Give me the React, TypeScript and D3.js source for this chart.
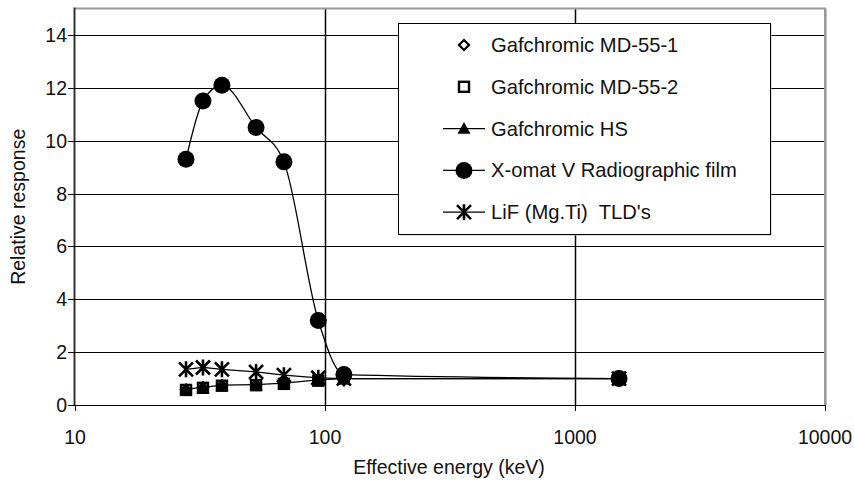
import React from "react";
import * as d3 from "d3";

const energies = [27.8, 32.5, 38.7, 53, 68.5, 94, 119, 1500];
const md551 = [0.58, 0.66, 0.74, 0.76, 0.82, 0.93, 1.0, 1.0];
const md552 = [0.57, 0.65, 0.73, 0.75, 0.8, 0.92, 1.0, 1.0];
const hs = [0.6, 0.67, 0.75, 0.77, 0.83, 0.95, 1.0, 1.0];
const xomat = [9.3, 11.5, 12.1, 10.5, 9.2, 3.2, 1.15, 1.0];
const lif = [1.35, 1.42, 1.35, 1.25, 1.13, 1.03, 1.0, 1.0];

const seriesNames = [
  "Gafchromic MD-55-1",
  "Gafchromic MD-55-2",
  "Gafchromic HS",
  "X-omat V Radiographic film",
  "LiF (Mg.Ti)  TLD's",
];
const xTicks = [10, 100, 1000, 10000];
const yTicks = [0, 2, 4, 6, 8, 10, 12, 14];

const W = 854;
const H = 480;
const L = 75;
const R = 825;
const T = 8.6;
const B = 405;
const FONT = "Liberation Sans, Arial, sans-serif";
const FS = 19.5;
const LFS = 20.2;

type Kind = "diamond" | "square" | "triangle" | "circle" | "star";

function Marker({ kind, x, y, legend }: { kind: Kind; x: number; y: number; legend?: boolean }) {
  if (kind === "diamond") {
    const s = 5;
    return (
      <path
        d={`M${x},${y - s}L${x + s},${y}L${x},${y + s}L${x - s},${y}Z`}
        fill={legend ? "white" : "none"}
        stroke="black"
        strokeWidth={2.2}
      />
    );
  }
  if (kind === "square") {
    const s = 5;
    return (
      <rect
        x={x - s}
        y={y - s}
        width={2 * s}
        height={2 * s}
        fill={legend ? "white" : "none"}
        stroke="black"
        strokeWidth={2.4}
      />
    );
  }
  if (kind === "triangle") {
    const s = 6.5;
    return <path d={`M${x},${y - s}L${x + s},${y + s * 0.8}L${x - s},${y + s * 0.8}Z`} fill="black" />;
  }
  if (kind === "circle") {
    return <circle cx={x} cy={y} r={8.5} fill="black" />;
  }
  const s = 7;
  return (
    <path
      d={`M${x - s},${y - s}L${x + s},${y + s}M${x - s},${y + s}L${x + s},${y - s}M${x},${y - s - 1}L${x},${y + s + 1}`}
      stroke="black"
      strokeWidth={2.6}
      fill="none"
    />
  );
}

export default function App() {
  const x = d3.scaleLog().domain([10, 10000]).range([L, R]);
  const y = d3.scaleLinear().domain([0, 15]).range([B, T]);

  const straight = d3
    .line<number>()
    .x((_, i) => x(energies[i]))
    .y((v) => y(v));
  const smooth = d3
    .line<number>()
    .x((_, i) => x(energies[i]))
    .y((v) => y(v))
    .curve(d3.curveMonotoneX);

  const series: { vals: number[]; kind: Kind; line: "none" | "straight" | "smooth" }[] = [
    { vals: md551, kind: "diamond", line: "none" },
    { vals: md552, kind: "square", line: "none" },
    { vals: hs, kind: "triangle", line: "straight" },
    { vals: xomat, kind: "circle", line: "smooth" },
    { vals: lif, kind: "star", line: "straight" },
  ];

  const legX = 398;
  const legY = 23;
  const legW = 372;
  const legH = 211;

  return (
    <svg
      width={W}
      height={H}
      style={{ position: "absolute", left: 0, top: 0, background: "white" }}
      fontFamily={FONT}
    >
      <rect x={0} y={0} width={W} height={H} fill="white" />
      {/* gridlines */}
      {yTicks.filter((t) => t > 0).map((t) => (
        <line key={"gy" + t} x1={L} x2={R} y1={Math.round(y(t)) + 0.5} y2={Math.round(y(t)) + 0.5} stroke="black" strokeWidth={1.2} />
      ))}
      {xTicks.filter((t) => t > 10).map((t) => (
        <line key={"gx" + t} x1={Math.round(x(t)) + 0.5} x2={Math.round(x(t)) + 0.5} y1={T} y2={B} stroke="black" strokeWidth={1.5} />
      ))}
      {/* plot border top/right */}
      <path d={`M${L},${T}H${R}V${B}`} fill="none" stroke="#9a9a9a" strokeWidth={2} />
      {/* axes */}
      <line x1={L - 0.5} x2={L - 0.5} y1={T - 1} y2={B} stroke="#333" strokeWidth={2} />
      <line x1={L} x2={R} y1={B + 0.5} y2={B + 0.5} stroke="black" strokeWidth={1.2} />
      {yTicks.map((t) => (
        <g key={"ty" + t}>
          <line x1={L - 7} x2={L} y1={Math.round(y(t)) + 0.5} y2={Math.round(y(t)) + 0.5} stroke="black" strokeWidth={1} />
          <text x={L - 8} y={y(t) + 7} textAnchor="end" fontSize={FS} fill="#111">
            {t}
          </text>
        </g>
      ))}
      {xTicks.map((t) => (
        <g key={"tx" + t}>
          <line x1={Math.round(x(t)) + 0.5} x2={Math.round(x(t)) + 0.5} y1={B} y2={B + 6} stroke="black" strokeWidth={1} />
          <text x={x(t)} y={B + 39} textAnchor="middle" fontSize={FS} fill="#111">
            {t}
          </text>
        </g>
      ))}
      <text x={449} y={474} textAnchor="middle" fontSize={FS} fill="#111">
        Effective energy (keV)
      </text>
      <text transform={`translate(25,${(T + B) / 2}) rotate(-90)`} textAnchor="middle" fontSize={FS} fill="#111">
        Relative response
      </text>

      {/* series */}
      {series.map((s, si) => (
        <g key={"s" + si}>
          {s.line !== "none" && (
            <path d={(s.line === "smooth" ? smooth : straight)(s.vals) || ""} fill="none" stroke="black" strokeWidth={1.3} />
          )}
          {s.vals.map((v, i) => (
            <Marker key={i} kind={s.kind} x={x(energies[i])} y={y(v)} />
          ))}
        </g>
      ))}

      {/* legend */}
      <rect x={legX + 1.5} y={legY + 1.5} width={legW} height={legH} fill="#bbb" />
      <rect x={legX + 0.5} y={legY + 0.5} width={legW} height={legH} fill="white" stroke="black" strokeWidth={1} />
      {series.map((s, i) => {
        const ly = 45 + i * 41.8;
        return (
          <g key={"l" + i}>
            {s.line !== "none" && <line x1={443} x2={485} y1={ly} y2={ly} stroke="black" strokeWidth={1.3} />}
            <Marker kind={s.kind} x={464} y={ly} legend />
            <text x={491} y={ly + 7} fontSize={LFS} fill="#111" style={{ whiteSpace: "pre" }}>
              {seriesNames[i]}
            </text>
          </g>
        );
      })}
    </svg>
  );
}
